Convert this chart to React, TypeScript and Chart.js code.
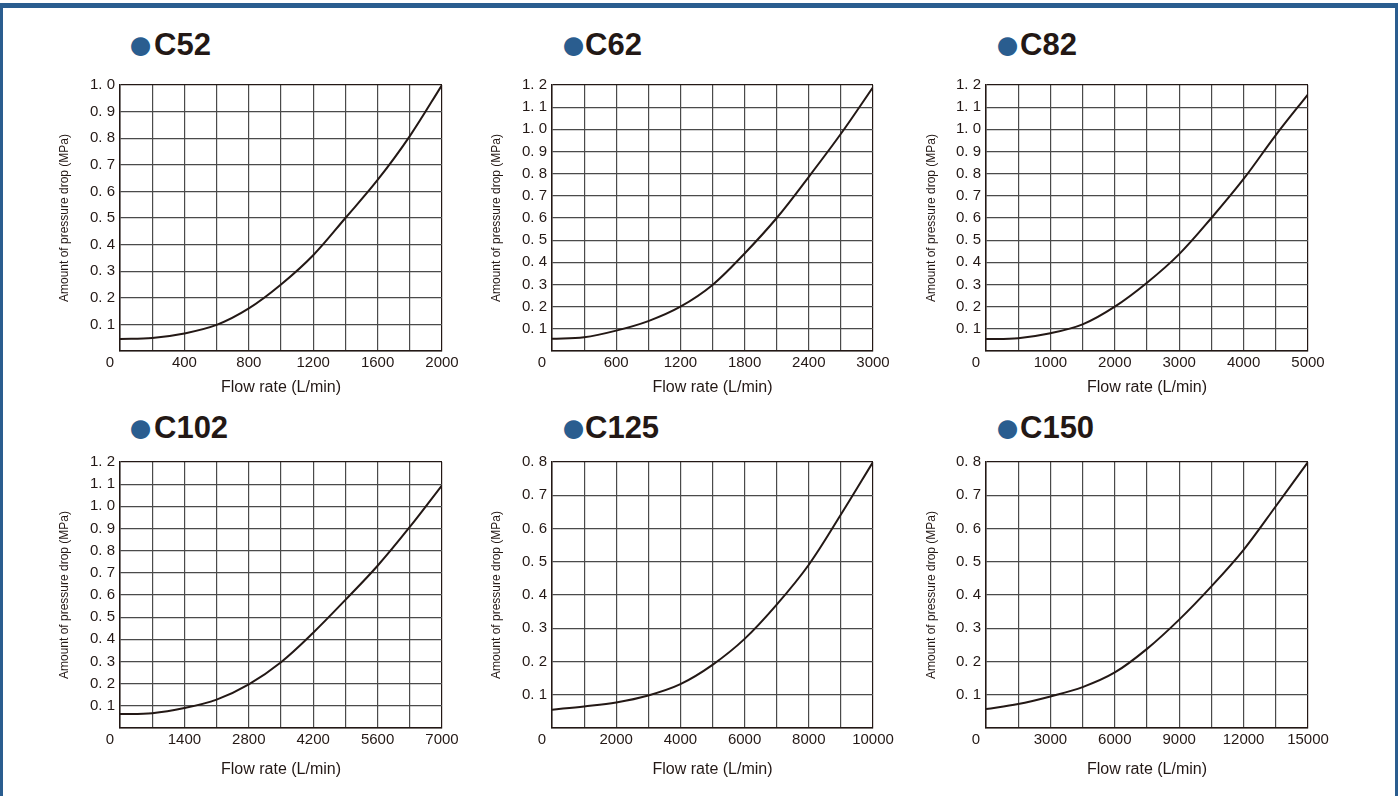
import React, { useEffect, useRef } from 'react';
import { Chart, registerables } from 'chart.js';

Chart.register(...registerables);

// ---------- data ----------
const c52Flow = [0, 200, 400, 600, 800, 1000, 1200, 1400, 1600, 1800, 2000];
const c52Drop = [0.045, 0.049, 0.066, 0.098, 0.16, 0.25, 0.36, 0.5, 0.643, 0.808, 1.0];

const c62Flow = [0, 300, 600, 900, 1200, 1500, 1800, 2100, 2400, 2700, 3000];
const c62Drop = [0.055, 0.062, 0.092, 0.135, 0.2, 0.298, 0.44, 0.6, 0.786, 0.98, 1.19];

const c82Flow = [0, 500, 1000, 1500, 2000, 2500, 3000, 3500, 4000, 4500, 5000];
const c82Drop = [0.054, 0.058, 0.08, 0.12, 0.2, 0.308, 0.437, 0.6, 0.776, 0.974, 1.158];

const c102Flow = [0, 700, 1400, 2100, 2800, 3500, 4200, 4900, 5600, 6300, 7000];
const c102Drop = [0.063, 0.067, 0.09, 0.128, 0.197, 0.297, 0.43, 0.578, 0.732, 0.907, 1.095];

const c125Flow = [0, 1000, 2000, 3000, 4000, 5000, 6000, 7000, 8000, 9000, 10000];
const c125Drop = [0.055, 0.065, 0.077, 0.098, 0.132, 0.19, 0.268, 0.371, 0.491, 0.642, 0.8];

const c150Flow = [0, 1500, 3000, 4500, 6000, 7500, 9000, 10500, 12000, 13500, 15000];
const c150Drop = [0.057, 0.072, 0.095, 0.123, 0.167, 0.238, 0.326, 0.426, 0.536, 0.667, 0.8];

const modelNames = ['C52', 'C62', 'C82', 'C102', 'C125', 'C150'];
const flowMax = [2000, 3000, 5000, 7000, 10000, 15000];
const dropMax = [1.0, 1.2, 1.2, 1.2, 0.8, 0.8];
const dropStep = 0.1;
const xAxisTitle = 'Flow rate (L/min)';
const yAxisTitle = 'Amount of pressure drop (MPa)';

const flows = [c52Flow, c62Flow, c82Flow, c102Flow, c125Flow, c150Flow];
const drops = [c52Drop, c62Drop, c82Drop, c102Drop, c125Drop, c150Drop];

// ---------- layout / style ----------
const INK = '#231815';
const GRID = '#4a4a4a';
const BLUE = '#2a5d8f';
const FONT_SANS = "'Liberation Sans', Arial, Helvetica, sans-serif";
const FONT_TICK = FONT_SANS;
const FONT_YT = FONT_SANS;

const COLS = [
  { plotLeft: 120, plotRight: 442, yTitleX: 65, dotX: 131, textX: 154 },
  { plotLeft: 552, plotRight: 873, yTitleX: 497, dotX: 564, textX: 585 },
  { plotLeft: 986, plotRight: 1308, yTitleX: 932, dotX: 998, textX: 1020 },
];
const ROWS = [
  { plotTop: 85, plotBottom: 351, xTitleY: 387.7, titleY: 45, canvasTop: 55, canvasBottom: 400 },
  { plotTop: 462, plotBottom: 728, xTitleY: 770, titleY: 428, canvasTop: 440, canvasBottom: 792 },
];
const Y_AXIS_W = 75;
const PAD_R = 30;
const TICK_FS = 15;
const YT_FS = 12;
const XT_FS = 16;
const DOT_FS = 44;

const zeroLabelPlugin = {
  id: 'zeroLabel',
  afterDraw(chart: any) {
    const { ctx, chartArea } = chart;
    ctx.save();
    ctx.font = `${TICK_FS}px ${FONT_TICK}`;
    ctx.fillStyle = INK;
    ctx.textAlign = 'right';
    ctx.textBaseline = 'middle';
    ctx.fillText('0', chartArea.left - 6, chartArea.bottom + 11.5);
    ctx.restore();
  },
};

function PressureChart({ idx }: { idx: number }) {
  const ref = useRef<HTMLCanvasElement>(null);
  const col = COLS[idx % 3];
  const row = ROWS[Math.floor(idx / 3)];
  const left = col.plotLeft - Y_AXIS_W;
  const top = row.canvasTop;
  const width = col.plotRight - left + PAD_R;
  const height = row.canvasBottom - row.canvasTop;
  const padTop = row.plotTop - row.canvasTop;
  const xAxisH = row.canvasBottom - row.plotBottom;

  useEffect(() => {
    if (!ref.current) return;
    const xMax = flowMax[idx];
    const yMax = dropMax[idx];
    const xStep = xMax / 10;
    const pts = flows[idx].map((x, i) => ({ x, y: drops[idx][i] }));
    const chart = new Chart(ref.current, {
      type: 'line',
      data: {
        datasets: [
          {
            data: pts,
            borderColor: INK,
            borderWidth: 2,
            pointRadius: 0,
            fill: false,
            tension: 0.35,
          },
        ],
      },
      options: {
        animation: false,
        responsive: false,
        maintainAspectRatio: false,
        events: [],
        layout: { padding: { left: 0, right: PAD_R, top: padTop, bottom: 0 } },
        plugins: { legend: { display: false }, tooltip: { enabled: false } },
        scales: {
          x: {
            type: 'linear',
            min: 0,
            max: xMax,
            ticks: {
              stepSize: xStep,
              autoSkip: false,
              maxRotation: 0,
              padding: 4,
              color: INK,
              font: { family: FONT_TICK, size: TICK_FS, lineHeight: 1 },
              callback: (v: any, i: number) => (i % 2 === 0 && Number(v) !== 0 ? String(Math.round(Number(v))) : ''),
            },
            grid: {
              drawTicks: false,
              color: (c: any) => (c.tick && Math.abs(c.tick.value - xMax) < 1e-6 ? INK : GRID),
              lineWidth: 1.2,
            },
            border: { display: true, color: INK, width: 1.5 },
            title: {
              display: true,
              text: xAxisTitle,
              color: INK,
              font: { family: FONT_SANS, size: XT_FS, lineHeight: 1 },
              padding: { top: 0, bottom: row.canvasBottom - XT_FS / 2 - row.xTitleY },
            },
            afterFit: (s: any) => {
              s.height = xAxisH;
            },
          },
          y: {
            type: 'linear',
            min: 0,
            max: yMax,
            ticks: {
              stepSize: dropStep,
              autoSkip: false,
              padding: 5,
              color: INK,
              font: { family: FONT_TICK, size: TICK_FS, lineHeight: 1 },
              callback: (v: any) => {
                const n = Number(v);
                if (Math.abs(n) < 1e-9) return '';
                return n.toFixed(1).replace('.', '. ');
              },
            },
            grid: {
              drawTicks: false,
              color: (c: any) => (c.tick && Math.abs(c.tick.value - yMax) < 1e-6 ? INK : GRID),
              lineWidth: 1.2,
            },
            border: { display: true, color: INK, width: 1.5 },
            title: {
              display: true,
              text: yAxisTitle,
              color: INK,
              font: { family: FONT_YT, size: YT_FS, lineHeight: 1 },
              padding: { top: col.yTitleX - left - YT_FS / 2, bottom: 0 },
            },
            afterFit: (s: any) => {
              s.width = Y_AXIS_W;
            },
          },
        },
      },
      plugins: [zeroLabelPlugin],
    } as any);
    return () => chart.destroy();
  }, [idx]);

  return (
    <>
      <div
        style={{
          position: 'absolute',
          left: col.dotX - 0.085 * DOT_FS,
          top: row.titleY - 21.5,
          height: 40,
          lineHeight: '40px',
          fontFamily: FONT_SANS,
          fontSize: DOT_FS,
          color: BLUE,
          whiteSpace: 'nowrap',
        }}
      >
        ●
      </div>
      <div
        style={{
          position: 'absolute',
          left: col.textX,
          top: row.titleY - 20,
          height: 40,
          lineHeight: '40px',
          fontFamily: FONT_SANS,
          fontWeight: 'bold',
          fontSize: 31,
          color: INK,
          whiteSpace: 'nowrap',
        }}
      >
        {modelNames[idx]}
      </div>
      <canvas
        ref={ref}
        width={width}
        height={height}
        style={{ position: 'absolute', left, top, width, height }}
      />
    </>
  );
}

export default function App() {
  return (
    <div
      style={{
        position: 'fixed',
        left: 0,
        top: 0,
        width: 1398,
        height: 796,
        overflow: 'hidden',
        background: '#ffffff',
      }}
    >
      <div
        style={{
          position: 'absolute',
          left: 0,
          top: 3,
          width: 1398,
          height: 900,
          boxSizing: 'border-box',
          borderTop: `5px solid ${BLUE}`,
          borderLeft: `3px solid ${BLUE}`,
          borderRight: `3px solid ${BLUE}`,
        }}
      />
      {modelNames.map((_, i) => (
        <PressureChart key={i} idx={i} />
      ))}
    </div>
  );
}
